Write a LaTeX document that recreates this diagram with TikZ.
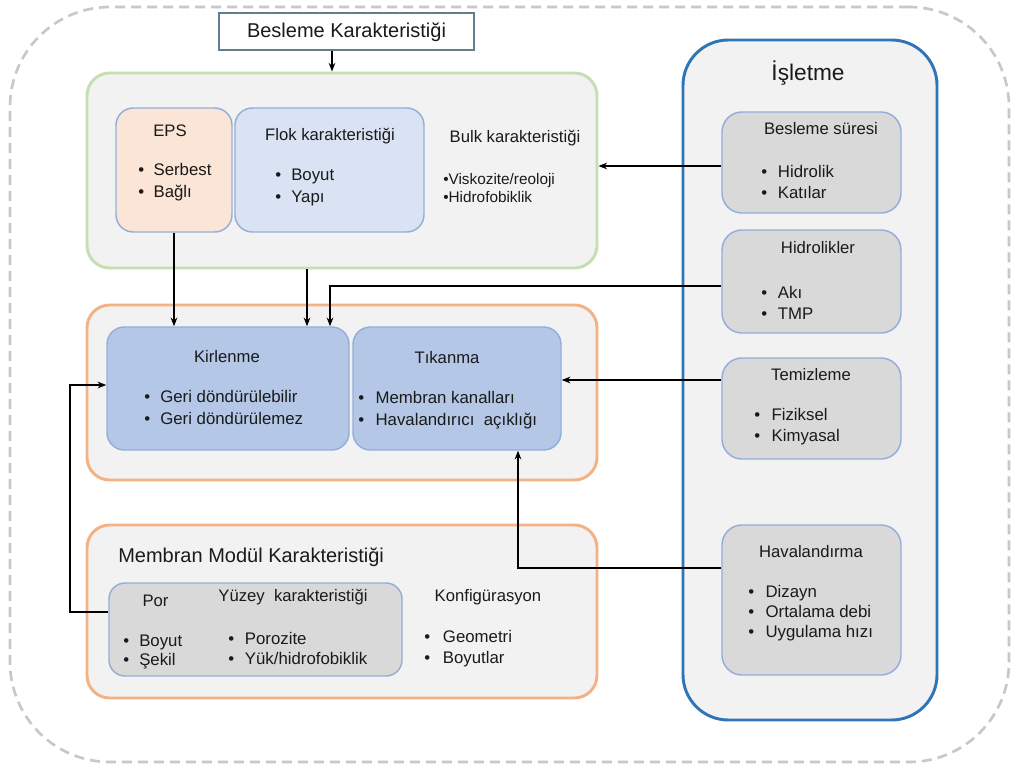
\documentclass[tikz,border=0pt]{standalone}
\usepackage{fontspec}
\setmainfont{Liberation Sans}
\usetikzlibrary{fit,arrows.meta}
\definecolor{cfill}{HTML}{F2F2F2}
\definecolor{greenb}{HTML}{C5DFB2}
\definecolor{orangeb}{HTML}{F4B183}
\definecolor{blueb}{HTML}{2E75B6}
\definecolor{iborder}{HTML}{94AEDA}
\definecolor{epsfill}{HTML}{FBE5D6}
\definecolor{flokfill}{HTML}{DAE3F3}
\definecolor{kirfill}{HTML}{B4C7E7}
\definecolor{greyfill}{HTML}{D9D9D9}
\definecolor{topb}{HTML}{617D90}
\definecolor{dashc}{HTML}{C8C8C8}
\definecolor{txt}{HTML}{1A1A1A}
\newcommand\bl[1]{\makebox[#1][l]{•}}
\begin{document}
\begin{tikzpicture}[x=0.75pt,y=-0.75pt,
  every node/.style={text=txt},
  container/.style={draw, line width=2.2pt, fill=cfill, rounded corners=17pt, inner sep=0pt},
  ibox/.style={draw=iborder, line width=1.1pt, rounded corners=13pt, inner sep=0pt},
  gbox/.style={draw=iborder, line width=1.1pt, fill=greyfill, rounded corners=15pt, inner sep=0pt},
  ttl/.style={font=\fontsize{12.5}{15}\selectfont, inner sep=0pt},
  lst/.style={font=\fontsize{12.6}{15.5}\selectfont, align=left, anchor=west, inner sep=0pt},
  lstw/.style={font=\fontsize{12.6}{16.5}\selectfont, align=left, anchor=west, inner sep=0pt},
  conn/.style={line width=1.1pt, draw=black, -{Stealth[length=6.5pt,width=5pt]}},
  plain/.style={line width=1.1pt, draw=black}
]
\useasboundingbox (0,0) rectangle (1013,767);
\fill[white] (0,0) rectangle (1013,767);
% outer dashed frame
\node[draw=dashc, line width=2pt, dash pattern=on 7.5pt off 4.5pt, rounded corners=75pt, inner sep=0pt, fit={(10,7) (1009,762)}] (frame) {};

% top box
\node[draw=topb, line width=1.1pt, fill=white, inner sep=0pt, fit={(219,13) (474,50)}] (besk) {};
\node[font=\fontsize{15}{18}\selectfont, inner sep=0pt] (beskt) at (346.5,32) {Besleme Karakteristiği};

% green container
\node[container, draw=greenb, fit={(87,73) (597,268)}] (green) {};
\node[ibox, fill=epsfill, fit={(116,108) (232,232)}] (eps) {};
\node[ibox, fill=flokfill, fit={(235,108) (424,232)}] (flok) {};
\node[ttl] (epst) at (170,131) {EPS};
\node[lstw] (epsl) at (138,182.5) {\bl{11.5pt}Serbest\\\bl{11.5pt}Bağlı};
\node[ttl] (flokt) at (330,136) {Flok karakteristiği};
\node[lstw] (flokl) at (275,187.5) {\bl{12pt}Boyut\\\bl{12pt}Yapı};
\node[ttl] (bulkt) at (515,138) {Bulk karakteristiği};
\node[font=\fontsize{11.5}{13.5}\selectfont, align=left, anchor=west, inner sep=0pt] (bulkl) at (443,188) {•Viskozite/reoloji\\•Hidrofobiklik};

% orange container
\node[container, draw=orangeb, fit={(87,305) (597,480)}] (orange) {};
\node[ibox, fill=kirfill, fit={(107,327) (349,450)}] (kir) {};
\node[ibox, fill=kirfill, fit={(353,327) (561,450)}] (tik) {};
\node[ttl] (kirt) at (227,357) {Kirlenme};
\node[lstw] (kirl) at (144,407) {\bl{12pt}Geri döndürülebilir\\\bl{12pt}Geri döndürülemez};
\node[ttl] (tikt) at (447,358) {Tıkanma};
\node[lstw] (tikl) at (358,410) {\bl{13pt}Membran kanalları\\\bl{13pt}Havalandırıcı\ \ açıklığı};

% bottom container
\node[container, draw=orangeb, fit={(87,525) (597,698)}] (mod) {};
\node[font=\fontsize{15}{18}\selectfont, anchor=west, inner sep=0pt] (modt) at (118,557) {Membran Modül Karakteristiği};
\node[gbox, rounded corners=12pt, fit={(109,583) (402,676)}] (inner) {};
\node[ttl] (port) at (155.5,601) {Por};
\node[ttl] (yuzt) at (293,597) {Yüzey\ \ karakteristiği};
\node[lst, font=\fontsize{12.6}{14.5}\selectfont] (porl) at (123,652) {\bl{12pt}Boyut\\\bl{12pt}Şekil};
\node[lst] (yuzl) at (228,648.5) {\bl{12.5pt}Porozite\\\bl{12.5pt}Yük/hidrofobiklik};
\node[ttl] (konft) at (488,597) {Konfigürasyon};
\node[lst] (konfl) at (424,648.5) {\bl{14pt}Geometri\\\bl{14pt}Boyutlar};

% right container
\node[container, draw=blueb, rounded corners=34pt, fit={(683,40) (937,720)}] (islt) {};
\node[font=\fontsize{17}{20}\selectfont, inner sep=0pt] (isltt) at (808,73) {İşletme};
\node[gbox, fit={(722,112) (901,213)}] (bsure) {};
\node[ttl] (bsuret) at (821,129) {Besleme süresi};
\node[lst] (bsurel) at (761,182) {\bl{12.5pt}Hidrolik\\\bl{12.5pt}Katılar};
\node[gbox, fit={(722,230) (901,333)}] (hid) {};
\node[ttl] (hidt) at (818,248) {Hidrolikler};
\node[lst] (hidl) at (761,303) {\bl{12.5pt}Akı\\\bl{12.5pt}TMP};
\node[gbox, fit={(722,358) (901,459)}] (tem) {};
\node[ttl] (temt) at (811,375) {Temizleme};
\node[lst] (teml) at (754,426.5) {\bl{13pt}Fiziksel\\\bl{13pt}Kimyasal};
\node[gbox, fit={(722,525) (901,675)}] (hav) {};
\node[ttl] (havt) at (811,552) {Havalandırma};
\node[lst, font=\fontsize{12.6}{15}\selectfont] (havl) at (748,613) {\bl{13pt}Dizayn\\\bl{13pt}Ortalama\ debi\\\bl{13pt}Uygulama\ hızı};

% helper coordinates
\coordinate (xA) at (332,0);
\coordinate (xG) at (307,0);
\coordinate (xH) at (330,0);
\coordinate (xV) at (518,0);
\coordinate (xL) at (70,0);
\coordinate (yB) at (0,166);
\coordinate (yH) at (0,286);
\coordinate (yT) at (0,380);
\coordinate (yV) at (0,568);
\coordinate (yP) at (0,612);
\coordinate (yK) at (0,385);

% connectors
\draw[conn] (besk.south -| xA) -- (green.north -| xA);
\draw[conn] (bsure.west |- yB) -- (green.east |- yB);
\draw[conn] (eps.south) -- (eps.south |- kir.north);
\draw[conn] (green.south -| xG) -- (kir.north -| xG);
\draw[conn] (hid.west |- yH) -| (kir.north -| xH);
\draw[conn] (tem.west |- yT) -- (tik.east |- yT);
\draw[conn] (hav.west |- yV) -| (tik.south -| xV);
\draw[conn] (inner.west |- yP) -- (xL |- yP) |- (kir.west |- yK);
\end{tikzpicture}
\end{document}
